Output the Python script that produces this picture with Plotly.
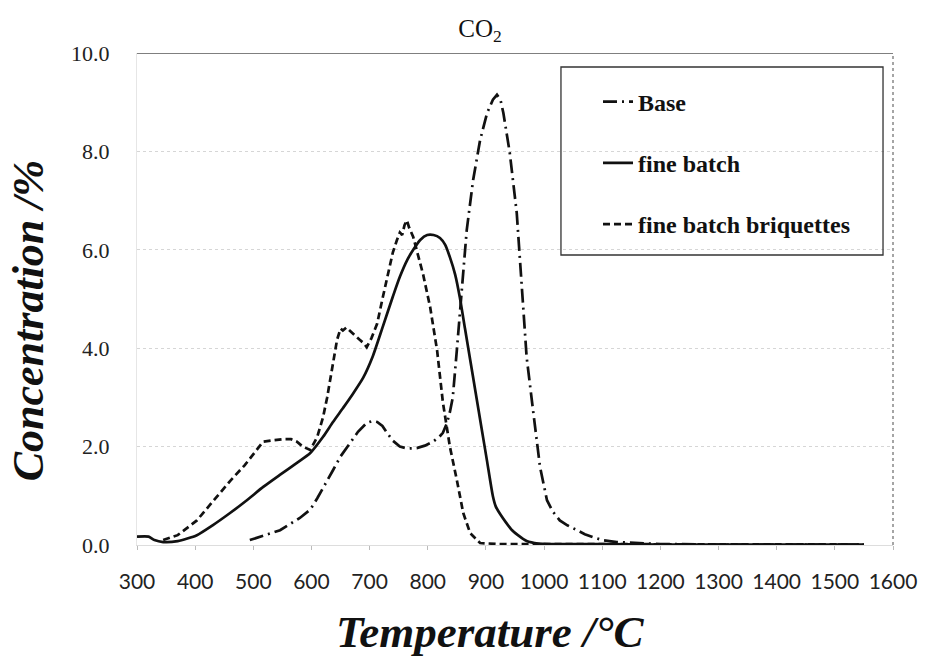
import plotly.graph_objects as go

# CO2 evolution during heating: concentration (%) versus temperature (deg C)
base_T = [494, 520, 546, 580, 598, 610, 620, 637, 650, 666, 680, 695, 705, 713, 722,
          730, 740, 752, 765, 781, 795, 809, 820, 826, 833, 838, 843, 850, 858, 867,
          878, 890, 902, 912, 919, 925, 930, 941, 953, 959, 962, 970, 981, 993, 1005,
          1015, 1027, 1040, 1057, 1070, 1084, 1100, 1125, 1160, 1200, 1300, 1400, 1550]
base_C = [0.10, 0.20, 0.30, 0.55, 0.72, 0.95, 1.15, 1.52, 1.80, 2.07, 2.30, 2.48, 2.52, 2.50, 2.42,
          2.28, 2.12, 2.00, 1.96, 1.97, 2.02, 2.10, 2.20, 2.28, 2.48, 2.70, 3.00, 3.96, 5.20, 6.40,
          7.42, 8.23, 8.78, 9.05, 9.15, 9.05, 8.78, 7.97, 6.75, 5.73, 5.00, 3.82, 2.74, 1.59, 0.91,
          0.68, 0.50, 0.40, 0.30, 0.22, 0.16, 0.10, 0.06, 0.04, 0.02, 0.01, 0.01, 0.01]

fine_T = [300, 320, 330, 345, 370, 403, 430, 460, 490, 517, 545, 575, 598, 620, 637,
          654, 670, 689, 705, 723, 740, 752, 765, 775, 787, 799, 810, 821, 830, 838,
          847, 855, 864, 873, 882, 892, 902, 912, 917, 925, 935, 945, 955, 970, 990,
          1100, 1200, 1300, 1400, 1550]
fine_C = [0.17, 0.17, 0.10, 0.06, 0.08, 0.20, 0.40, 0.65, 0.92, 1.18, 1.42, 1.67, 1.87, 2.20, 2.50,
          2.78, 3.05, 3.40, 3.82, 4.45, 5.05, 5.45, 5.80, 6.00, 6.20, 6.30, 6.30, 6.24, 6.10, 5.85,
          5.50, 5.04, 4.40, 3.76, 3.12, 2.41, 1.70, 0.99, 0.78, 0.62, 0.45, 0.30, 0.20, 0.08, 0.03,
          0.02, 0.01, 0.01, 0.01, 0.01]

briq_T = [345, 370, 403, 430, 460, 485, 506, 517, 535, 551, 565, 575, 585, 598, 610,
          620, 627, 636, 644, 650, 654, 660, 666, 675, 683, 690, 695, 703, 713, 722,
          730, 740, 747, 752, 756, 760, 764, 768, 775, 792, 804, 816, 826, 838, 850,
          861, 873, 890, 920, 1000, 1100, 1200, 1300, 1400, 1550]
briq_C = [0.10, 0.20, 0.50, 0.88, 1.30, 1.62, 1.93, 2.10, 2.13, 2.15, 2.15, 2.10, 2.00, 1.93, 2.20,
          2.60, 3.00, 3.60, 4.17, 4.40, 4.36, 4.42, 4.35, 4.25, 4.17, 4.10, 4.02, 4.20, 4.50, 5.00,
          5.45, 5.95, 6.20, 6.35, 6.30, 6.50, 6.60, 6.45, 6.26, 5.50, 4.84, 3.96, 2.90, 2.00, 1.32,
          0.65, 0.24, 0.04, 0.02, 0.02, 0.01, 0.01, 0.01, 0.01, 0.01]

# name, temperatures, concentrations, dash pattern, line shape
series = [
    ("Base", base_T, base_C, "14px,5px,2px,5px", "linear"),
    ("fine batch", fine_T, fine_C, "solid", "spline"),
    ("fine batch briquettes", briq_T, briq_C, "7px,4px", "linear"),
]

fig = go.Figure()
for i, (name, t, c, dash, shape) in enumerate(series):
    fig.add_trace(go.Scatter(
        x=t, y=c, name=name, mode="lines", legendgroup=f"g{i}",
        line=dict(color="#111111", width=2.7, dash=dash, shape=shape,
                  smoothing=0.6 if shape == "spline" else None),
    ))

serif = "Liberation Serif"
title_font = dict(family=serif, color="#111111", style="italic", weight="bold")

fig.update_layout(
    width=928, height=661,
    margin=dict(l=137, r=35, t=53, b=116),
    paper_bgcolor="white", plot_bgcolor="white",
    title=dict(text="CO<sub>2</sub>", x=0.4537, xref="paper", xanchor="center",
               y=0.958, yanchor="middle",
               font=dict(family=serif, size=25, color="#111111")),
    showlegend=True,
    legend=dict(x=0.6098, y=0.946, xanchor="left", yanchor="top",
                bgcolor="rgba(0,0,0,0)", borderwidth=0,
                traceorder="grouped", tracegroupgap=27,
                font=dict(family=serif, size=24, color="#111111", weight="bold")),
    xaxis=dict(range=[300, 1600], dtick=100, tick0=300,
               showgrid=False, zeroline=False,
               ticks="outside", ticklen=4, tickcolor="#bbbbbb",
               showline=True, linecolor="#dddddd", linewidth=1,
               ticklabelstandoff=14,
               tickfont=dict(family="Lato", size=21, color="#222222")),
    yaxis=dict(range=[0, 10], dtick=2, tickformat=".1f",
               showgrid=True, gridcolor="#d6d6d6", griddash="dot", gridwidth=1,
               zeroline=False, ticks="",
               showline=True, linecolor="#e6e6e6", linewidth=1,
               ticklabelstandoff=22,
               tickfont=dict(family=serif, size=22, color="#222222")),
    annotations=[
        dict(text="Temperature /°C", xref="paper", yref="paper",
             x=0.468, y=-0.177, xanchor="center", yanchor="middle",
             showarrow=False, font=dict(size=45, **title_font)),
        dict(text="Concentration /%", xref="paper", yref="paper",
             x=-0.144, y=0.457, xanchor="center", yanchor="middle",
             textangle=-90, showarrow=False, font=dict(size=44, **title_font)),
    ],
    shapes=[
        # top frame line at 10 %
        dict(type="line", xref="paper", yref="y", x0=0, x1=1, y0=10, y1=10,
             line=dict(color="#555555", width=1.5)),
        # right frame line
        dict(type="line", xref="paper", yref="paper", x0=1, x1=1, y0=0, y1=1,
             line=dict(color="#888888", width=1.5, dash="dot")),
        # legend box
        dict(type="rect", xref="paper", yref="paper",
             x0=0.5608, x1=0.9868, y0=0.5894, y1=0.9715,
             line=dict(color="#333333", width=1.3), fillcolor="rgba(0,0,0,0)"),
    ],
)

fig.write_html("out.html")
